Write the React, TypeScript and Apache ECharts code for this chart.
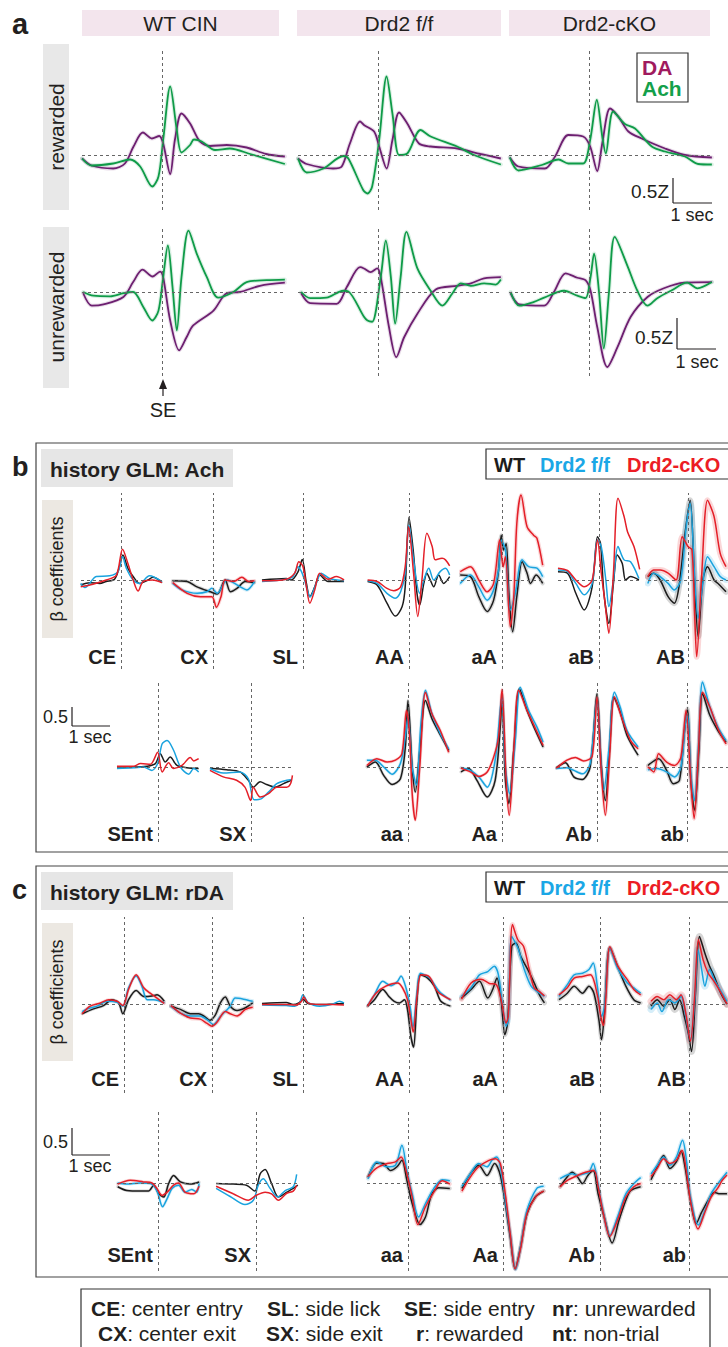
import React, { useEffect, useRef } from "react";
import * as echarts from "echarts";

const FONT = "'Liberation Sans', Arial, Helvetica, sans-serif";

// ================= Panel a: [time (s), z-score] =================
const a_wt_rew_da = [[-2.05,-0.07],[-1.81,-0.21],[-1.25,-0.27],[-0.95,-0.17],[-0.73,0.17],[-0.49,0.45],[-0.26,0.33],[-0.07,0.38],[0.03,0.23],[0.21,-0.38],[0.33,0.30],[0.50,0.83],[0.72,0.63],[0.97,0.27],[1.23,0.18],[1.66,0.20],[2.17,0.15],[2.67,0.02],[3.15,-0.03]];
const a_wt_rew_ach = [[-2.05,-0.07],[-1.81,-0.21],[-1.25,-0.17],[-0.82,-0.09],[-0.56,-0.23],[-0.25,-0.63],[-0.09,-0.43],[0.03,0.30],[0.21,1.37],[0.38,0.50],[0.50,0.05],[0.72,0.20],[0.82,0.31],[1.02,0.27],[1.36,0.10],[1.74,0.13],[2.26,0.02],[3.15,-0.18]];
const a_ff_rew_da = [[-2.05,-0.07],[-1.83,-0.18],[-1.15,-0.27],[-0.93,-0.23],[-0.72,0.23],[-0.46,0.67],[-0.36,0.60],[-0.10,0.47],[0.03,0.17],[0.22,-0.27],[0.37,0.30],[0.54,0.85],[0.75,0.63],[1.05,0.23],[1.35,0.17],[2.03,0.13],[2.63,0.02],[3.15,-0.07]];
const a_ff_rew_ach = [[-2.05,-0.07],[-1.83,-0.35],[-1.40,-0.27],[-0.89,-0.02],[-0.76,-0.07],[-0.38,-0.70],[-0.27,-0.77],[-0.15,-0.63],[0.03,0.30],[0.22,1.57],[0.37,0.83],[0.54,0.0],[0.75,0.03],[1.09,0.50],[1.35,0.37],[2.03,0.17],[2.46,0.0],[3.15,-0.19]];
const a_ko_rew_da = [[-2.03,-0.05],[-1.81,-0.23],[-1.13,-0.27],[-0.87,-0.03],[-0.53,0.40],[-0.15,0.37],[0.03,0.17],[0.21,-0.32],[0.34,0.23],[0.54,0.93],[0.75,0.77],[1.01,0.47],[1.35,0.33],[1.95,0.13],[2.46,0.0],[3.15,-0.05]];
const a_ko_rew_ach = [[-2.03,-0.05],[-1.81,-0.31],[-1.21,-0.20],[-0.78,-0.09],[-0.53,-0.17],[-0.15,-0.17],[0.03,0.30],[0.20,1.10],[0.34,0.37],[0.43,0.03],[0.62,0.87],[0.92,0.62],[1.18,0.53],[1.61,0.17],[1.95,0.07],[2.46,-0.03],[2.80,-0.18],[3.15,-0.19]];
const a_wt_unr_da = [[-2.02,-0.02],[-1.80,-0.22],[-1.50,-0.20],[-0.99,-0.08],[-0.74,0.16],[-0.50,0.36],[-0.24,0.25],[-0.05,0.33],[0.03,0.24],[0.21,-0.46],[0.44,-0.94],[0.63,-0.73],[0.80,-0.54],[1.32,-0.30],[1.66,-0.02],[2.0,0.0],[2.51,0.10],[3.15,0.15]];
const a_wt_unr_ach = [[-2.02,0],[-1.76,-0.06],[-1.33,-0.07],[-0.99,-0.02],[-0.74,0],[-0.48,-0.24],[-0.25,-0.46],[-0.09,-0.30],[0.03,0.24],[0.15,0.75],[0.27,0.08],[0.38,-0.62],[0.50,0.24],[0.68,0.99],[0.89,0.62],[1.15,0.24],[1.44,-0.09],[1.83,0],[2.17,0.16],[2.68,0.19],[3.15,0.20]];
const a_ff_unr_da = [[-1.97,-0.02],[-1.74,-0.18],[-1.06,-0.19],[-0.80,0.08],[-0.46,0.40],[-0.36,0.38],[-0.19,0.32],[-0.02,0.38],[0.07,0.24],[0.28,-0.56],[0.47,-1.05],[0.67,-0.73],[1.01,-0.35],[1.48,0.04],[2.03,0.10],[2.38,0.14],[2.72,0.22],[3.15,0.24]];
const a_ff_unr_ach = [[-1.97,0],[-1.74,-0.10],[-1.32,-0.09],[-0.89,0.02],[-0.76,0.01],[-0.36,-0.40],[-0.27,-0.46],[-0.15,-0.48],[0.07,0.24],[0.20,0.83],[0.33,0.24],[0.44,-0.51],[0.58,0.24],[0.73,0.97],[1.01,0.38],[1.35,0.02],[1.65,-0.22],[1.91,-0.02],[2.12,0.14],[2.38,0.10],[2.72,0.14],[3.02,0.12],[3.15,0.20]];
const a_ko_unr_da = [[-2.01,-0.02],[-1.79,-0.20],[-1.15,-0.22],[-0.90,0],[-0.60,0.30],[-0.30,0.23],[-0.09,0.19],[0.04,0.02],[0.21,-0.56],[0.47,-1.21],[0.73,-0.89],[1.07,-0.40],[1.50,-0.08],[1.92,0.06],[2.44,0.15],[3.15,0.16]];
const a_ko_unr_ach = [[-2.01,0],[-1.79,-0.22],[-1.41,-0.16],[-1.15,-0.09],[-0.64,0.02],[-0.30,-0.06],[-0.09,-0.10],[0.04,0.24],[0.13,0.62],[0.26,-0.02],[0.38,-0.91],[0.51,-0.02],[0.66,0.89],[0.98,0.43],[1.24,0.02],[1.50,-0.22],[1.75,-0.10],[2.10,0.02],[2.52,0.15],[2.78,0.06],[3.15,0.16]];

// ================= Panel b (history GLM: Ach): [time (s), beta] =================
const bCE_wt = [[-1.06,-0.13],[-0.82,-0.07],[-0.56,-0.09],[-0.39,-0.04],[-0.17,0.02],[-0.04,0.35],[0.05,0.66],[0.18,0.31],[0.32,0.09],[0.49,-0.09],[0.71,0],[0.84,0.07],[1.08,-0.07]];
const bCE_ff = [[-1.06,-0.09],[-0.95,-0.2],[-0.65,0.09],[-0.30,0.11],[-0.08,0.22],[0.04,0.61],[0.14,0.31],[0.32,0],[0.49,-0.09],[0.75,0.11],[1.08,-0.04]];
const bCE_ko = [[-1.06,-0.18],[-0.74,-0.11],[-0.39,0],[-0.12,0.13],[0.04,0.81],[0.18,0.44],[0.32,0],[0.45,-0.29],[0.58,-0.04],[0.84,0],[1.08,-0.07]];
const bCX_wt = [[-1.06,-0.02],[-0.68,-0.04],[-0.42,-0.18],[-0.07,-0.31],[0.11,-0.37],[0.32,0],[0.46,-0.31],[0.63,-0.22],[0.85,-0.04],[1.09,-0.07]];
const bCX_ff = [[-1.06,-0.09],[-0.82,-0.26],[-0.42,-0.35],[-0.16,-0.31],[-0.03,-0.22],[0.11,-0.35],[0.37,0],[0.72,-0.18],[0.89,-0.26],[1.09,-0.04]];
const bCX_ko = [[-1.06,-0.07],[-0.68,-0.35],[-0.33,-0.44],[-0.03,-0.44],[0.09,-0.72],[0.21,-0.44],[0.32,0],[0.54,-0.04],[0.76,0.07],[0.94,-0.04],[1.09,-0.02]];
const bSL_wt = [[-1.08,0],[-0.44,0.04],[-0.31,0],[-0.13,0.22],[-0.02,0.54],[0.09,-0.09],[0.18,-0.44],[0.31,-0.18],[0.44,0.13],[0.66,-0.04],[1.08,-0.04]];
const bSL_ff = [[-1.08,-0.04],[-0.44,0.02],[-0.26,0.09],[-0.13,0.35],[-0.04,0.22],[0.04,0],[0.19,-0.44],[0.35,-0.09],[0.48,0.18],[0.70,0.04],[1.08,-0.02]];
const bSL_ko = [[-1.08,-0.02],[-0.44,0.02],[-0.22,0.18],[-0.11,0.48],[0,0.35],[0.09,-0.18],[0.18,-0.61],[0.31,-0.26],[0.44,0.18],[0.66,0.02],[0.88,0.09],[1.08,0]];
const bAA_wt = [[-1.09,-0.04],[-0.84,-0.13],[-0.58,-0.61],[-0.36,-0.95],[-0.18,-0.70],[-0.10,-0.18],[0,1.65],[0.11,0.79],[0.21,-0.35],[0.28,-0.66],[0.39,-0.09],[0.47,0.18],[0.56,0],[0.65,-0.18],[0.78,0.13],[0.91,-0.09],[1.07,0.09]];
const bAA_ff = [[-1.09,-0.02],[-0.84,-0.09],[-0.58,-0.35],[-0.36,-0.48],[-0.22,-0.31],[-0.10,0.18],[0,1.45],[0.12,0.53],[0.28,-0.35],[0.39,0],[0.52,0.31],[0.65,0],[0.82,0.22],[0.96,0.31],[1.07,0.13]];
const bAA_ko = [[-1.09,0],[-0.84,-0.04],[-0.58,-0.22],[-0.40,-0.28],[-0.22,-0.18],[-0.10,0.35],[-0.01,1.40],[0.12,0.18],[0.23,-0.96],[0.34,0],[0.47,1.23],[0.61,0.88],[0.69,0.53],[0.87,0.57],[0.96,0.53],[1.07,0.37]];
const baA_wt = [[-1.10,0.13],[-0.83,0.09],[-0.61,-0.44],[-0.39,-0.83],[-0.22,-0.53],[-0.09,0.26],[-0.02,1.18],[0.04,0.79],[0.11,0.96],[0.18,-0.35],[0.28,-1.36],[0.39,-0.44],[0.53,0.48],[0.66,0.18],[0.75,-0.09],[0.90,0.13],[1.07,-0.09]];
const baA_ff = [[-1.10,-0.09],[-0.83,0.13],[-0.61,-0.18],[-0.39,-0.53],[-0.22,-0.26],[-0.09,0.26],[-0.02,1.05],[0.09,0.79],[0.22,-0.79],[0.35,-0.35],[0.53,0.53],[0.70,0.35],[0.92,0.31],[1.07,0.09]];
const baA_ko = [[-1.10,0.22],[-0.83,0.35],[-0.61,0],[-0.39,-0.31],[-0.22,-0.09],[-0.06,1.05],[0.03,0.35],[0.09,0.61],[0.22,-1.23],[0.31,-0.44],[0.39,1.49],[0.50,2.24],[0.66,1.40],[0.83,1.18],[0.92,1.10],[1.07,0.39]];
const baB_wt = [[-1.08,0.22],[-0.83,0.18],[-0.61,-0.35],[-0.39,-0.79],[-0.18,-0.18],[-0.04,1.14],[0.04,0.96],[0.13,-0.35],[0.26,-1.14],[0.38,-0.09],[0.48,0.66],[0.61,0.44],[0.70,0],[0.83,0.09],[1.05,0]];
const baB_ff = [[-1.08,0.26],[-0.83,0.22],[-0.61,-0.09],[-0.39,-0.39],[-0.18,-0.09],[-0.04,1.05],[0.06,0.88],[0.18,0],[0.26,-0.70],[0.38,0],[0.50,0.88],[0.66,0.53],[0.83,0.48],[1.05,0.04]];
const baB_ko = [[-1.08,0.31],[-0.83,0.25],[-0.61,0],[-0.39,-0.18],[-0.18,0],[-0.04,1.05],[0.06,0.18],[0.15,-0.53],[0.26,-1.40],[0.38,0.18],[0.50,2.15],[0.66,1.67],[0.75,1.27],[0.92,0.88],[1.07,0.28]];
const bAB_wt = [[-1.11,0.09],[-0.95,0.18],[-0.77,0],[-0.55,-0.44],[-0.38,-0.61],[-0.25,-0.18],[-0.07,1.32],[0.06,2.10],[0.18,0],[0.28,-1.49],[0.41,0],[0.54,0.35],[0.72,0],[0.85,-0.11],[1.05,-0.31]];
const bAB_ff = [[-1.11,-0.09],[-0.95,0.18],[-0.77,0.09],[-0.55,-0.09],[-0.38,-0.26],[-0.20,0],[-0.05,1.40],[0.06,2.02],[0.18,0.18],[0.28,-1.01],[0.41,-0.09],[0.54,0.61],[0.72,0.35],[0.89,0.09],[1.05,0]];
const bAB_ko = [[-1.11,0.09],[-0.95,0.26],[-0.77,0.26],[-0.55,0.18],[-0.33,0],[-0.16,1.14],[0,0.88],[0.11,0.79],[0.19,-1.05],[0.24,-2.02],[0.37,0],[0.54,2.10],[0.72,1.67],[0.89,0.70],[1.05,0.35]];
const bSEnt_wt = [[-1.08,0],[-0.64,0],[-0.29,0.02],[-0.07,0.09],[0.06,0.35],[0.19,0.13],[0.32,0.26],[0.50,0.04],[0.76,-0.02],[1.07,-0.04]];
const bSEnt_ff = [[-1.08,-0.04],[-0.64,-0.02],[-0.38,0],[-0.16,-0.09],[-0.01,0.09],[0.11,0.61],[0.24,0.70],[0.41,0.44],[0.59,0],[0.81,-0.19],[0.94,-0.04],[1.07,-0.13]];
const bSEnt_ko = [[-1.08,0.02],[-0.64,0.02],[-0.46,0.09],[-0.20,0.07],[-0.01,0.39],[0.11,-0.13],[0.28,0.11],[0.41,-0.04],[0.63,0.04],[0.85,0.25],[0.94,0.16],[1.07,0.22]];
const bSX_wt = [[-1.08,-0.03],[-0.64,-0.07],[-0.29,-0.13],[-0.07,-0.35],[0.06,-0.53],[0.24,-0.39],[0.41,-0.46],[0.63,-0.53],[0.89,-0.42],[1.07,-0.35]];
const bSX_ff = [[-1.08,-0.04],[-0.73,-0.16],[-0.29,-0.13],[-0.07,-0.31],[0.08,-0.86],[0.28,-0.83],[0.46,-0.66],[0.68,-0.44],[0.94,-0.35],[1.07,-0.33]];
const bSX_ko = [[-1.08,-0.09],[-0.73,-0.26],[-0.38,-0.35],[-0.16,-0.53],[-0.01,-0.88],[0.06,-0.53],[0.24,-0.79],[0.46,-0.70],[0.68,-0.53],[0.94,-0.53],[1.04,-0.44],[1.09,-0.22]];
const baa_wt = [[-1.08,0],[-0.86,0.13],[-0.64,-0.22],[-0.42,-0.46],[-0.20,-0.31],[-0.07,0.53],[0,1.75],[0.11,0],[0.19,-0.66],[0.31,0.44],[0.46,1.75],[0.63,1.27],[0.81,0.92],[1.07,0.44]];
const baa_ff = [[-1.08,0.18],[-0.86,0.18],[-0.64,0],[-0.42,-0.19],[-0.20,0.09],[-0.07,0.79],[0,1.32],[0.11,0],[0.22,-0.48],[0.34,1.14],[0.46,2.02],[0.63,1.40],[0.85,0.88],[1.07,0.48]];
const baa_ko = [[-1.08,0.04],[-0.82,0.22],[-0.55,0.13],[-0.33,0.18],[-0.16,0.35],[-0.04,1.49],[0.04,0.88],[0.11,-0.70],[0.19,-1.40],[0.31,0],[0.46,1.97],[0.63,1.40],[0.85,0.96],[1.07,0.39]];
const bAa_wt = [[-1.08,-0.13],[-0.88,-0.04],[-0.66,-0.35],[-0.39,-0.79],[-0.18,-0.35],[-0.04,1.14],[0,1.93],[0.09,-0.35],[0.18,-0.96],[0.31,0.44],[0.46,2.06],[0.66,1.49],[0.88,0.96],[1.08,0.53]];
const bAa_ff = [[-1.08,-0.02],[-0.83,-0.09],[-0.61,-0.26],[-0.39,-0.53],[-0.18,0.18],[-0.04,1.58],[0,1.84],[0.09,0],[0.20,-0.70],[0.35,0.70],[0.48,2.10],[0.70,1.49],[0.92,1.05],[1.08,0.66]];
const bAa_ko = [[-1.08,-0.03],[-0.83,-0.13],[-0.61,-0.25],[-0.39,-0.13],[-0.22,0.26],[-0.09,0.79],[0,2.04],[0.11,-0.35],[0.19,-1.27],[0.31,0.44],[0.44,2.02],[0.66,1.49],[0.88,1.01],[1.08,0.57]];
const bAb_wt = [[-1.07,-0.02],[-0.83,0.11],[-0.61,-0.26],[-0.39,-0.33],[-0.18,0],[0,1.93],[0.11,0.09],[0.22,-0.88],[0.33,0.44],[0.44,1.84],[0.61,1.45],[0.79,0.83],[1.08,0.31]];
const bAb_ff = [[-1.07,-0.04],[-0.79,-0.02],[-0.61,-0.09],[-0.38,-0.18],[-0.18,0.09],[0,1.80],[0.11,0],[0.18,-0.61],[0.31,0.44],[0.46,1.97],[0.61,1.58],[0.79,0.96],[1.08,0.53]];
const bAb_ko = [[-1.07,-0.03],[-0.79,0.18],[-0.57,0.25],[-0.35,0.16],[-0.13,0.28],[0,1.84],[0.11,-0.09],[0.22,-1.27],[0.33,0.26],[0.46,1.84],[0.66,1.27],[0.88,0.70],[1.08,0.48]];
const bab_wt = [[-1.08,0.04],[-0.79,0.22],[-0.57,-0.09],[-0.39,-0.44],[-0.22,-0.35],[-0.09,0.88],[0,1.54],[0.09,-0.35],[0.19,-1.14],[0.31,0.44],[0.41,1.93],[0.61,1.36],[0.83,0.96],[1.05,0.66]];
const bab_ff = [[-1.08,-0.07],[-0.83,-0.04],[-0.57,-0.13],[-0.35,-0.26],[-0.18,0],[-0.06,1.14],[0,1.40],[0.09,-0.18],[0.19,-0.88],[0.31,0.70],[0.41,2.24],[0.61,1.58],[0.83,1.05],[1.05,0.70]];
const bab_ko = [[-1.08,0],[-0.92,-0.13],[-0.79,0.35],[-0.57,0.13],[-0.35,0.04],[-0.18,0.26],[-0.04,1.49],[0.09,-0.35],[0.18,-1.36],[0.29,0.26],[0.41,1.97],[0.61,1.58],[0.83,1.01],[1.05,0.61]];

// ================= Panel c (history GLM: rDA): [time (s), beta] =================
const cCE_wt = [[-1.10,-0.18],[-0.80,-0.09],[-0.54,-0.03],[-0.32,0.08],[-0.14,0.02],[-0.03,-0.18],[0.12,0.08],[0.32,0.25],[0.52,0.14],[0.74,0.15],[0.87,0.17],[1.06,0.05]];
const cCE_ff = [[-1.10,-0.14],[-0.97,-0.09],[-0.71,-0.04],[-0.45,0.05],[-0.18,0.03],[-0.03,-0.04],[0.12,0.30],[0.32,0.52],[0.47,0.33],[0.61,0.08],[0.78,0.08],[1.06,0.02]];
const cCE_ko = [[-1.10,-0.18],[-0.89,-0.04],[-0.62,0.02],[-0.40,0.08],[-0.18,0.05],[-0.03,-0.03],[0.12,0.27],[0.32,0.54],[0.52,0.30],[0.69,0.20],[0.87,0.11],[1.06,0.01]];
const cCX_wt = [[-1.08,-0.04],[-0.83,-0.10],[-0.57,-0.18],[-0.35,-0.18],[-0.20,-0.23],[-0.06,-0.30],[0.09,-0.20],[0.22,0.02],[0.35,0.13],[0.48,-0.04],[0.66,-0.12],[0.88,-0.07],[1.07,0.02]];
const cCX_ff = [[-1.08,-0.04],[-0.83,-0.17],[-0.57,-0.22],[-0.31,-0.22],[-0.13,-0.29],[0.04,-0.38],[0.22,-0.23],[0.48,-0.04],[0.61,0.11],[0.83,0.09],[1.07,0.05]];
const cCX_ko = [[-1.08,-0.03],[-0.83,-0.17],[-0.57,-0.26],[-0.31,-0.28],[-0.13,-0.36],[0,-0.41],[0.13,-0.34],[0.35,-0.14],[0.48,-0.18],[0.66,-0.22],[0.88,-0.10],[1.07,-0.06]];
const cSL_wt = [[-1.08,0.01],[-0.44,0.03],[-0.26,-0.01],[-0.11,0.02],[0,0.09],[0.13,0.01],[0.44,-0.01],[0.79,0],[1.08,0.01]];
const cSL_ff = [[-1.08,-0.02],[-0.44,-0.03],[-0.22,-0.04],[-0.09,0.02],[0,0.17],[0.13,0.03],[0.44,-0.04],[0.79,0],[0.96,0.05],[1.08,0.02]];
const cSL_ko = [[-1.08,-0.01],[-0.44,-0.01],[-0.18,-0.02],[-0.04,0.05],[0.02,0.13],[0.13,0.02],[0.44,-0.01],[0.79,-0.01],[1.08,-0.02]];
const cAA_wt = [[-1.09,-0.04],[-0.91,0.08],[-0.69,0.27],[-0.54,0.15],[-0.39,0.05],[-0.25,0.02],[-0.12,0.08],[-0.04,-0.10],[0.05,-0.60],[0.12,-0.80],[0.21,0.08],[0.30,0.54],[0.49,0.48],[0.67,0.33],[0.84,0.05],[1.09,-0.04]];
const cAA_ff = [[-1.09,-0.03],[-0.91,0.17],[-0.69,0.42],[-0.47,0.34],[-0.30,0.42],[-0.21,0.52],[-0.08,0.30],[0.04,-0.10],[0.10,-0.44],[0.21,0.20],[0.30,0.57],[0.54,0.48],[0.80,0.23],[1.09,0.07]];
const cAA_ko = [[-1.09,-0.04],[-0.87,0.20],[-0.61,0.33],[-0.30,0.39],[-0.17,0.30],[-0.04,0.08],[0.05,-0.29],[0.11,-0.52],[0.21,0.14],[0.32,0.54],[0.54,0.50],[0.75,0.23],[1.09,0.08]];
const caA_wt = [[-1.09,0.11],[-0.84,0.27],[-0.62,0.42],[-0.40,0.11],[-0.27,0.27],[-0.16,0.48],[-0.05,0.08],[0.05,-0.57],[0.12,-0.35],[0.23,1.07],[0.34,1.13],[0.47,0.88],[0.65,0.64],[0.82,0.39],[0.96,0.17],[1.09,0.02]];
const caA_ff = [[-1.09,0.14],[-0.84,0.30],[-0.62,0.54],[-0.40,0.60],[-0.23,0.70],[-0.12,0.54],[-0.01,-0.04],[0.08,-0.41],[0.14,-0.29],[0.23,1.25],[0.39,1.04],[0.56,0.64],[0.74,0.33],[0.91,0.23],[1.09,0.14]];
const caA_ko = [[-1.09,0.09],[-0.84,0.39],[-0.58,0.46],[-0.36,0.38],[-0.18,0.36],[-0.05,0.08],[0.08,-0.35],[0.14,-0.23],[0.25,1.47],[0.39,1.19],[0.54,1.07],[0.69,0.64],[0.82,0.30],[0.96,0.23],[1.09,0.15]];
const caB_wt = [[-1.08,0.08],[-0.86,0.20],[-0.68,0.33],[-0.46,0.20],[-0.29,0.33],[-0.16,0.20],[-0.03,-0.29],[0.04,-0.66],[0.11,-0.23],[0.26,1.04],[0.46,0.70],[0.68,0.33],[0.89,0.08],[1.07,0.02]];
const caB_ff = [[-1.08,0.14],[-0.86,0.36],[-0.68,0.54],[-0.46,0.57],[-0.29,0.64],[-0.18,0.76],[-0.07,0.33],[0.04,-0.23],[0.12,-0.04],[0.26,1.04],[0.46,0.67],[0.72,0.39],[0.89,0.30],[1.07,0.20]];
const caB_ko = [[-1.08,0.17],[-0.86,0.30],[-0.68,0.48],[-0.46,0.51],[-0.25,0.54],[-0.07,0.17],[0.02,-0.23],[0.09,-0.40],[0.15,0.08],[0.26,1.06],[0.47,0.70],[0.72,0.45],[0.89,0.27],[1.07,0.17]];
const cAB_wt = [[-1.05,-0.04],[-0.88,0.08],[-0.70,-0.04],[-0.53,0.08],[-0.39,-0.10],[-0.26,0.08],[-0.13,-0.23],[-0.02,-0.54],[0.07,-0.88],[0.18,0.20],[0.29,1.25],[0.44,0.94],[0.57,0.70],[0.70,0.51],[0.88,0.20],[1.05,0.0]];
const cAB_ff = [[-1.05,-0.10],[-0.88,0.02],[-0.75,-0.14],[-0.57,0.08],[-0.39,0.02],[-0.22,0.14],[-0.09,-0.23],[0.04,-0.66],[0.16,0.08],[0.25,1.01],[0.35,0.64],[0.44,0.33],[0.57,0.64],[0.70,0.45],[1.05,0.05]];
const cAB_ko = [[-1.05,0.05],[-0.88,0.14],[-0.70,0.08],[-0.53,0.17],[-0.35,0.08],[-0.22,0.17],[-0.09,-0.17],[0.04,-0.69],[0.15,0.08],[0.26,1.19],[0.39,0.82],[0.53,0.57],[0.66,0.45],[0.83,0.27],[1.05,0.0]];
const cSEnt_wt = [[-1.06,-0.07],[-0.82,-0.14],[-0.46,-0.15],[-0.25,-0.15],[-0.11,-0.04],[0.02,-0.20],[0.15,-0.26],[0.28,-0.01],[0.41,0.14],[0.59,0.02],[0.85,-0.02],[1.08,0.02]];
const cSEnt_ff = [[-1.06,0],[-0.82,-0.02],[-0.46,0],[-0.20,-0.01],[-0.03,-0.14],[0.12,-0.44],[0.24,-0.29],[0.37,-0.10],[0.54,-0.04],[0.71,-0.17],[0.89,-0.12],[1.02,-0.17],[1.08,-0.01]];
const cSEnt_ko = [[-1.06,-0.02],[-0.73,0.05],[-0.38,0.02],[-0.16,0],[-0.03,-0.10],[0.11,-0.23],[0.24,-0.17],[0.41,-0.04],[0.54,0],[0.71,-0.17],[0.94,-0.20],[1.08,-0.06]];
const cSX_wt = [[-1.05,-0.01],[-0.60,-0.02],[-0.25,-0.04],[-0.03,-0.15],[0.11,0.17],[0.24,0.25],[0.41,-0.01],[0.59,-0.26],[0.81,-0.17],[0.98,-0.10],[1.10,-0.04]];
const cSX_ff = [[-1.05,-0.10],[-0.68,-0.25],[-0.29,-0.40],[-0.07,-0.32],[0.06,-0.04],[0.19,0.08],[0.37,-0.10],[0.57,-0.26],[0.77,-0.14],[0.98,-0.07],[1.07,0.16]];
const cSX_ko = [[-1.05,-0.06],[-0.60,-0.20],[-0.20,-0.32],[0,-0.23],[0.24,-0.17],[0.41,-0.20],[0.59,-0.32],[0.81,-0.19],[0.98,-0.15],[1.07,-0.04]];
const caa_wt = [[-1.05,0.11],[-0.82,0.37],[-0.64,0.36],[-0.46,0.23],[-0.29,0.30],[-0.16,0.42],[-0.03,0.05],[0.11,-0.38],[0.32,-0.77],[0.46,-0.63],[0.63,-0.20],[0.81,-0.09],[1.10,-0.10]];
const caa_ff = [[-1.05,0.08],[-0.82,0.39],[-0.55,0.30],[-0.33,0.33],[-0.16,0.70],[-0.03,0.23],[0.11,-0.20],[0.28,-0.63],[0.46,-0.38],[0.68,-0.10],[0.90,0.06],[1.10,0.04]];
const caa_ko = [[-1.05,0.12],[-0.82,0.28],[-0.55,0.36],[-0.33,0.39],[-0.18,0.48],[-0.03,0.17],[0.11,-0.26],[0.26,-0.77],[0.46,-0.44],[0.68,-0.17],[0.90,0.04],[1.10,-0.02]];
const cAa_wt = [[-1.08,-0.10],[-0.86,0.17],[-0.64,0.33],[-0.42,0.14],[-0.22,0.36],[-0.07,0.14],[0.06,-0.38],[0.19,-1.00],[0.32,-1.59],[0.46,-1.19],[0.63,-0.57],[0.85,-0.26],[1.07,-0.15]];
const cAa_ff = [[-1.08,-0.06],[-0.86,0.17],[-0.64,0.36],[-0.42,0.30],[-0.29,0.42],[-0.16,0.48],[-0.07,0.30],[0.06,-0.32],[0.19,-0.94],[0.33,-1.60],[0.46,-1.19],[0.63,-0.51],[0.89,-0.10],[1.07,-0.06]];
const cAa_ko = [[-1.08,-0.15],[-0.86,0.11],[-0.64,0.30],[-0.37,0.42],[-0.20,0.45],[-0.07,0.36],[0.06,-0.20],[0.19,-0.94],[0.32,-1.59],[0.46,-1.22],[0.63,-0.57],[0.89,-0.23],[1.07,-0.15]];
const cAb_wt = [[-1.05,-0.07],[-0.90,0.08],[-0.73,0.20],[-0.59,0.11],[-0.46,-0.01],[-0.32,0.14],[-0.18,0.23],[-0.05,-0.20],[0.11,-0.63],[0.32,-1.11],[0.50,-0.69],[0.68,-0.32],[0.81,-0.14],[1.07,-0.07]];
const cAb_ff = [[-1.05,0.08],[-0.90,0.14],[-0.73,0.17],[-0.59,0.14],[-0.42,0.17],[-0.29,0.20],[-0.18,0.36],[-0.07,0.05],[0.06,-0.44],[0.26,-0.97],[0.46,-0.63],[0.68,-0.20],[0.89,-0.01],[1.07,0.10]];
const cAb_ko = [[-1.05,-0.07],[-0.86,0.05],[-0.59,0.14],[-0.38,0.20],[-0.16,0.23],[-0.05,-0.07],[0.09,-0.57],[0.26,-0.99],[0.46,-0.69],[0.68,-0.26],[0.89,-0.07],[1.07,-0.01]];
const cab_wt = [[-1.05,0.06],[-0.88,0.30],[-0.70,0.51],[-0.53,0.27],[-0.35,0.39],[-0.22,0.59],[-0.11,0.30],[0.04,-0.32],[0.20,-0.75],[0.35,-0.54],[0.53,-0.32],[0.70,-0.17],[0.83,-0.20],[1.05,-0.20]];
const cab_ff = [[-1.05,0.17],[-0.88,0.33],[-0.70,0.48],[-0.53,0.33],[-0.35,0.48],[-0.18,0.79],[-0.07,0.42],[0.04,-0.26],[0.26,-0.78],[0.44,-0.51],[0.61,-0.20],[0.79,-0.02],[1.05,0.20]];
const cab_ko = [[-1.05,0.12],[-0.88,0.27],[-0.70,0.45],[-0.53,0.36],[-0.35,0.42],[-0.19,0.60],[-0.09,0.30],[0.04,-0.32],[0.25,-0.85],[0.44,-0.54],[0.61,-0.26],[0.79,-0.10],[0.92,0.05],[1.05,0.15]];

// ================= Labels =================
const headerLabels = ["WT CIN", "Drd2 f/f", "Drd2-cKO"];
const rowLabelsA = ["rewarded", "unrewarded"];
const topEvents = ["CE", "CX", "SL", "AA", "aA", "aB", "AB"];
const bottomEvents = ["SEnt", "SX", "aa", "Aa", "Ab", "ab"];
const groupLegend = ["WT", "Drd2 f/f", "Drd2-cKO"];
const keyLine1 = [["CE", "center entry"], ["SL", "side lick"], ["SE", "side entry"], ["nr", "unrewarded"]];
const keyLine2 = [["CX", "center exit"], ["SX", "side exit"], ["r", "rewarded"], ["nt", "non-trial"]];

// ================= Styling =================
const C_DA = "#6d1f70";
const C_ACH = "#0f9b48";
const C_WT = "#1c1c1c";
const C_FF = "#1aa3de";
const C_KO = "#e41f28";
const groupColors = [C_WT, C_FF, C_KO];

type Sub = { l: number; d: number; r: number; top: number; bot: number; zero: number; ppx: number; ppy: number; lw: number; band: number; bandOp: number; traces: [number[][], string][]; label?: string; labelY?: number };

function buildSubs(): Sub[] {
  const subs: Sub[] = [];
  const aCols = [[82, 162, 285], [298, 378, 501], [509, 589, 712]];
  const aRows = [{ top: 48, bot: 210, zero: 155, ppy: 50 }, { top: 227, bot: 376, zero: 292, ppy: 62 }];
  const aData = [
    [[a_wt_rew_da, a_wt_rew_ach], [a_ff_rew_da, a_ff_rew_ach], [a_ko_rew_da, a_ko_rew_ach]],
    [[a_wt_unr_da, a_wt_unr_ach], [a_ff_unr_da, a_ff_unr_ach], [a_ko_unr_da, a_ko_unr_ach]],
  ];
  aRows.forEach((row, ri) => aCols.forEach((c, ci) => {
    subs.push({ l: c[0], d: c[1], r: c[2], top: row.top, bot: row.bot, zero: row.zero, ppx: 39, ppy: row.ppy, lw: 1.8, band: 4, bandOp: 0.15,
      traces: [[aData[ri][ci][0], C_DA], [aData[ri][ci][1], C_ACH]] });
  }));
  const addGroup = (cols: number[][], row: any, data: number[][][][], labels: string[], bands: number[]) => {
    cols.forEach((c, ci) => subs.push({ l: c[0], d: c[1], r: c[2], top: row.top, bot: row.bot, zero: row.zero, ppx: 38, ppy: row.ppy, lw: 1.5, band: bands[ci], bandOp: 0.18,
      traces: data[ci].map((d, k) => [d, groupColors[k]] as [number[][], string]), label: labels[ci], labelY: row.labelY }));
  };
  // panel b
  addGroup([[81, 121, 162], [172, 213, 254], [262, 303, 344], [368, 409, 451], [461, 502, 544], [558, 599, 640], [648, 690, 732]],
    { top: 493, bot: 669, zero: 580, ppy: 38, labelY: 657 },
    [[bCE_wt, bCE_ff, bCE_ko], [bCX_wt, bCX_ff, bCX_ko], [bSL_wt, bSL_ff, bSL_ko], [bAA_wt, bAA_ff, bAA_ko], [baA_wt, baA_ff, baA_ko], [baB_wt, baB_ff, baB_ko], [bAB_wt, bAB_ff, bAB_ko]],
    topEvents, [0, 3.5, 0, 0, 4, 0, 6]);
  addGroup([[117, 158, 198], [210, 251, 293], [367, 408, 450], [461, 502, 543], [557, 597, 639], [648, 689, 731]],
    { top: 680, bot: 842, zero: 767, ppy: 38, labelY: 834 },
    [[bSEnt_wt, bSEnt_ff, bSEnt_ko], [bSX_wt, bSX_ff, bSX_ko], [baa_wt, baa_ff, baa_ko], [bAa_wt, bAa_ff, bAa_ko], [bAb_wt, bAb_ff, bAb_ko], [bab_wt, bab_ff, bab_ko]],
    bottomEvents, [0, 0, 3, 3, 3, 4]);
  // panel c
  addGroup([[82, 124, 164], [171, 212, 252], [262, 303, 345], [367, 409, 450], [461, 503, 544], [559, 600, 641], [650, 691, 732]],
    { top: 917, bot: 1093, zero: 1004, ppy: 54, labelY: 1079 },
    [[cCE_wt, cCE_ff, cCE_ko], [cCX_wt, cCX_ff, cCX_ko], [cSL_wt, cSL_ff, cSL_ko], [cAA_wt, cAA_ff, cAA_ko], [caA_wt, caA_ff, caA_ko], [caB_wt, caB_ff, caB_ko], [cAB_wt, cAB_ff, cAB_ko]],
    topEvents, [3, 4, 0, 3, 5, 4, 7]);
  addGroup([[117, 158, 199], [216, 256, 298], [367, 408, 450], [462, 503, 544], [559, 600, 641], [650, 691, 732]],
    { top: 1111, bot: 1271, zero: 1183, ppy: 54, labelY: 1255 },
    [[cSEnt_wt, cSEnt_ff, cSEnt_ko], [cSX_wt, cSX_ff, cSX_ko], [caa_wt, caa_ff, caa_ko], [cAa_wt, cAa_ff, cAa_ko], [cAb_wt, cAb_ff, cAb_ko], [cab_wt, cab_ff, cab_ko]],
    bottomEvents, [3, 0, 4, 4, 4, 4]);
  return subs;
}

function txt(x: number, y: number, text: string, o: any = {}) {
  const st: any = {
    text, fill: o.fill || "#231f20", fontSize: o.size || 19, fontFamily: FONT, fontWeight: o.weight || "normal",
    align: o.align || "left", verticalAlign: "middle", textAlign: o.align || "left", textVerticalAlign: "middle",
  };
  if (o.rich) st.rich = o.rich;
  return { type: "text", x, y, rotation: o.rot || 0, z: 10, silent: true, style: st };
}
function ln(x1: number, y1: number, x2: number, y2: number, w = 1.2, color = "#231f20") {
  return { type: "line", z: 10, silent: true, shape: { x1, y1, x2, y2 }, style: { stroke: color, lineWidth: w } };
}
function box(x: number, y: number, w: number, h: number, fill: string, stroke?: string) {
  return { type: "rect", z: 0, silent: true, shape: { x, y, width: w, height: h }, style: { fill, stroke: stroke || null, lineWidth: 1.2 } };
}

function buildOption() {
  const subs = buildSubs();
  const grid: any[] = [], xAxis: any[] = [], yAxis: any[] = [], series: any[] = [], graphic: any[] = [];
  subs.forEach((s, i) => {
    grid.push({ left: s.l, top: s.top, width: s.r - s.l, height: s.bot - s.top, show: false });
    xAxis.push({ type: "value", gridIndex: i, min: -(s.d - s.l) / s.ppx, max: (s.r - s.d) / s.ppx, show: false });
    yAxis.push({ type: "value", gridIndex: i, min: -(s.bot - s.zero) / s.ppy, max: (s.zero - s.top) / s.ppy, show: false });
    // translucent error bands (wide faint lines under each trace)
    if (s.band > 0) {
      s.traces.forEach(([data, color]) => {
        series.push({
          type: "line", xAxisIndex: i, yAxisIndex: i, data, symbol: "none", showSymbol: false, smooth: 0.3, silent: true,
          lineStyle: { color, width: s.band, opacity: s.bandOp, cap: "round", join: "round" }, z: 1,
        });
      });
    }
    s.traces.forEach(([data, color], j) => {
      const ser: any = {
        type: "line", xAxisIndex: i, yAxisIndex: i, data, symbol: "none", showSymbol: false, smooth: 0.3, silent: true,
        lineStyle: { color, width: s.lw }, itemStyle: { color }, z: 3 + j,
      };
      if (j === 0) {
        ser.markLine = {
          silent: true, symbol: "none", label: { show: false },
          lineStyle: { color: "#666", width: 1, type: [3, 3] },
          data: [{ xAxis: 0 }, { yAxis: 0 }],
        };
      }
      series.push(ser);
    });
    if (s.label) graphic.push(txt(s.d - 5, s.labelY!, s.label, { align: "right", weight: "bold", size: 20 }));
  });

  // ---------- panel a decorations ----------
  graphic.push(txt(12, 24, "a", { weight: "bold", size: 29 }));
  const hdr = [[82, 197], [297, 204], [509, 201]];
  hdr.forEach((h, i) => {
    graphic.push(box(h[0], 10, h[1], 26, "#f3e5ed"));
    graphic.push(txt(h[0] + h[1] / 2, 23, headerLabels[i], { align: "center", size: 21 }));
  });
  graphic.push(box(43, 44, 26, 166, "#e8e8e8"));
  graphic.push(txt(56, 127, rowLabelsA[0], { align: "center", size: 21, rot: Math.PI / 2 }));
  graphic.push(box(43, 227, 26, 161, "#e8e8e8"));
  graphic.push(txt(56, 307, rowLabelsA[1], { align: "center", size: 21, rot: Math.PI / 2 }));
  // DA / Ach legend
  graphic.push(box(637, 53, 51, 49, "#fff", "#333"));
  graphic.push(txt(642, 67, "DA", { weight: "bold", size: 21, fill: "#a01a5e" }));
  graphic.push(txt(642, 88, "Ach", { weight: "bold", size: 21, fill: "#13a04a" }));
  // scale bars a
  graphic.push(ln(673, 178, 673, 203), ln(673, 203, 712, 203));
  graphic.push(txt(669, 191, "0.5Z", { align: "right", size: 19 }));
  graphic.push(txt(692, 215, "1 sec", { align: "center", size: 18 }));
  graphic.push(ln(677, 318, 677, 349), ln(677, 349, 716, 349));
  graphic.push(txt(673, 337, "0.5Z", { align: "right", size: 19 }));
  graphic.push(txt(697, 362, "1 sec", { align: "center", size: 18 }));
  // SE arrow
  graphic.push({ type: "polygon", z: 10, silent: true, shape: { points: [[163, 379], [159, 389], [167, 389]] }, style: { fill: "#231f20" } });
  graphic.push(ln(163, 386, 163, 396, 1.2));
  graphic.push(txt(163, 410, "SE", { align: "center", size: 20 }));

  // ---------- panels b and c decorations ----------
  const panelDeco = (letter: string, title: string, boxTop: number, boxH: number, betaTop: number, scaleTop: number, scaleH: number) => {
    graphic.push(box(36, boxTop, 720, boxH, "transparent", "#444"));
    graphic.push(txt(12, boxTop + 24, letter, { weight: "bold", size: 27 }));
    graphic.push(box(41, boxTop + 6, 192, 38, "#e6e6e6"));
    graphic.push(txt(50, boxTop + 26, title, { weight: "bold", size: 21 }));
    graphic.push(box(486, boxTop + 6, 260, 30, "#fff", "#333"));
    const lx = [494, 540, 627];
    groupLegend.forEach((g, k) => graphic.push(txt(lx[k], boxTop + 22, g, { weight: "bold", size: 20, fill: [C_WT, "#1aa7e6", "#ec1c24"][k] })));
    graphic.push(box(42, betaTop, 31, 138, "#ece8e2"));
    graphic.push(txt(57, betaTop + 69, "β coefficients", { align: "center", size: 18, rot: Math.PI / 2 }));
    graphic.push(ln(72, scaleTop, 72, scaleTop + scaleH), ln(72, scaleTop + scaleH, 110, scaleTop + scaleH));
    graphic.push(txt(68, scaleTop + scaleH / 2, "0.5", { align: "right", size: 18 }));
    graphic.push(txt(90, scaleTop + scaleH + 11, "1 sec", { align: "center", size: 18 }));
  };
  panelDeco("b", "history GLM: Ach", 443, 409, 500, 707, 19);
  panelDeco("c", "history GLM: rDA", 866, 411, 923, 1128, 27);

  // ---------- bottom key ----------
  graphic.push(box(81, 1289, 629, 60, "#fff", "#333"));
  const rich = { b: { fontWeight: "bold", fontSize: 21, fontFamily: FONT, fill: "#231f20" }, n: { fontSize: 21, fontFamily: FONT, fill: "#231f20" } };
  const k1x = [91, 267, 404, 552];
  const k2x = [98, 266, 416, 552];
  keyLine1.forEach((k, i) => graphic.push(txt(k1x[i], 1308, `{b|${k[0]}}{n|: ${k[1]}}`, { size: 21, rich })));
  keyLine2.forEach((k, i) => graphic.push(txt(k2x[i], 1333, `{b|${k[0]}}{n|: ${k[1]}}`, { size: 21, rich })));

  return { animation: false, backgroundColor: "#fff", grid, xAxis, yAxis, series, graphic };
}

export default function App() {
  const ref = useRef<HTMLDivElement>(null);
  useEffect(() => {
    const chart = echarts.init(ref.current!, null, { renderer: "svg" });
    chart.setOption(buildOption() as any);
    return () => chart.dispose();
  }, []);
  return <div ref={ref} style={{ position: "absolute", left: 0, top: 0, width: 728, height: 1347, background: "#fff" }} />;
}
